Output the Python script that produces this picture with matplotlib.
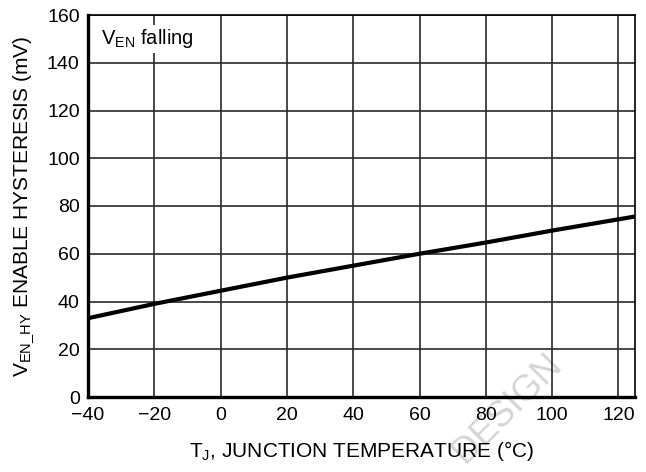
import numpy as np
import matplotlib.pyplot as plt

plt.rcParams['font.family'] = ['Liberation Sans', 'DejaVu Sans']
plt.rcParams['mathtext.fontset'] = 'custom'
plt.rcParams['mathtext.rm'] = 'Liberation Sans'

# junction temperature (C) and enable hysteresis (mV)
temp = [-40, -20, 0, 20, 40, 60, 80, 100, 125]
hyst = [33, 39, 44.5, 50, 55, 60, 64.7, 69.7, 75.6]

xticks = [-40, -20, 0, 20, 40, 60, 80, 100, 120]
xlabels = ['\u221240', '\u221220', '0', '20', '40', '60', '80', '100', '120']
yticks = [0, 20, 40, 60, 80, 100, 120, 140, 160]

fig = plt.figure(figsize=(6.46, 4.72), dpi=100)
ax = fig.add_axes([88 / 646, 75 / 472, 547 / 646, 382 / 472])
ax.set_facecolor('none')

ax.plot(temp, hyst, color='black', lw=3.0, solid_capstyle='butt', zorder=3)

ax.set_xlim(-40, 125)
ax.set_ylim(0, 160)
ax.set_xticks(xticks)
ax.set_xticklabels(xlabels)
ax.set_yticks(yticks)
ax.grid(True, color='#2a2a2a', lw=1.2)
ax.tick_params(length=0, labelsize=14, colors='black')
ax.tick_params(axis='x', pad=7)
ax.tick_params(axis='y', pad=6)

for s in ['left', 'bottom']:
    ax.spines[s].set_linewidth(2.4)
for s in ['top', 'right']:
    ax.spines[s].set_linewidth(1.2)

ax.set_xlabel('T$_\\mathregular{J}$, JUNCTION TEMPERATURE (\u00b0C)', fontsize=15, labelpad=11)
ax.set_ylabel('V$_\\mathregular{EN\\_HY}$ ENABLE HYSTERESIS (mV)', fontsize=15, labelpad=7)

ax.text(-36, 150, 'V$_\\mathregular{EN}$ falling', fontsize=14.5, va='center', ha='left',
        bbox=dict(facecolor='white', edgecolor='none', pad=2), zorder=4)

# faint watermark
fig.text(0.785, 0.135, 'DESIGN', fontsize=26, color='#d4d4d4', rotation=45,
         ha='center', va='center', zorder=-1)

fig.savefig('out.png', dpi=100)
